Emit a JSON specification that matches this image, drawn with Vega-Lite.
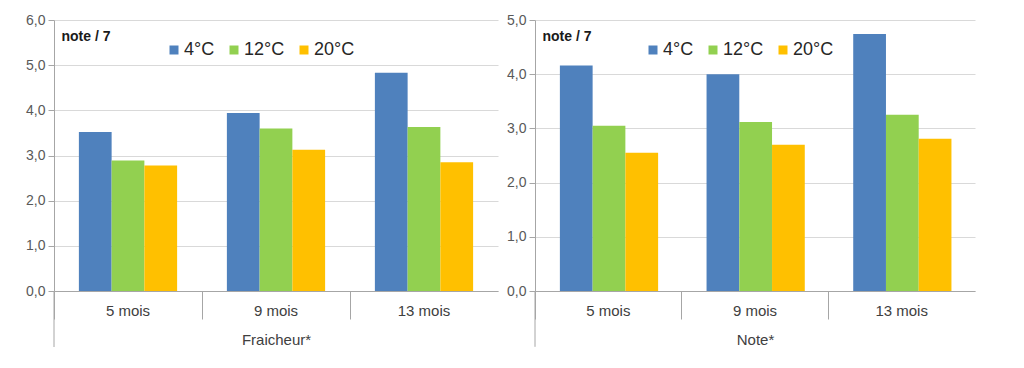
{
  "$schema": "https://vega.github.io/schema/vega-lite/v6.json",
  "background": "white",
  "padding": {"left": 25, "top": 13, "right": 10, "bottom": 5},
  "spacing": 8,
  "datasets": {
    "fraicheur": [
      {"duree": "5 mois", "temp": "4°C", "note": 3.52},
      {"duree": "5 mois", "temp": "12°C", "note": 2.89},
      {"duree": "5 mois", "temp": "20°C", "note": 2.78},
      {"duree": "9 mois", "temp": "4°C", "note": 3.94},
      {"duree": "9 mois", "temp": "12°C", "note": 3.6},
      {"duree": "9 mois", "temp": "20°C", "note": 3.13},
      {"duree": "13 mois", "temp": "4°C", "note": 4.83},
      {"duree": "13 mois", "temp": "12°C", "note": 3.63},
      {"duree": "13 mois", "temp": "20°C", "note": 2.85}
    ],
    "note": [
      {"duree": "5 mois", "temp": "4°C", "note": 4.16},
      {"duree": "5 mois", "temp": "12°C", "note": 3.05},
      {"duree": "5 mois", "temp": "20°C", "note": 2.55},
      {"duree": "9 mois", "temp": "4°C", "note": 4.0},
      {"duree": "9 mois", "temp": "12°C", "note": 3.12},
      {"duree": "9 mois", "temp": "20°C", "note": 2.7},
      {"duree": "13 mois", "temp": "4°C", "note": 4.74},
      {"duree": "13 mois", "temp": "12°C", "note": 3.25},
      {"duree": "13 mois", "temp": "20°C", "note": 2.81}
    ]
  },
  "config": {
    "font": "Liberation Sans",
    "view": {"stroke": null},
    "axisX": {
      "domainColor": "#a6a6a6", "tickColor": "#a6a6a6", "tickSize": 28, "bandPosition": 0,
      "labelAngle": 0, "labelFontSize": 15, "labelColor": "#404040", "labelPadding": -16,
      "titleFontSize": 15, "titleFontWeight": "normal", "titleColor": "#404040", "titlePadding": 13,
      "grid": false
    },
    "axisY": {
      "domainColor": "#a6a6a6", "tickColor": "#a6a6a6", "tickSize": 6,
      "labelFontSize": 14, "labelColor": "#595959", "labelPadding": 3,
      "gridColor": "#d9d9d9",
      "labelExpr": "replace(format(datum.value, '.1f'), '.', ',')",
      "titleAngle": 0, "titleAlign": "left", "titleBaseline": "middle",
      "titleX": 7, "titleY": 16, "titleFontSize": 14, "titleFontWeight": "bold", "titleColor": "#1a1a1a"
    },
    "legend": {
      "orient": "none", "legendY": 21, "direction": "horizontal",
      "symbolType": "square", "symbolSize": 81, "symbolStrokeWidth": 0, "symbolOpacity": 1,
      "labelFontSize": 18, "labelColor": "#262626", "labelOffset": 1, "columnPadding": 10
    }
  },
  "resolve": {"scale": {"color": "independent"}},
  "hconcat": [
    {
      "width": 444,
      "height": 271,
      "layer": [
        {
          "data": {"name": "fraicheur"},
          "mark": {"type": "bar"},
          "encoding": {
            "x": {"field": "duree", "type": "nominal", "title": "Fraicheur*",
                  "scale": {"domain": ["5 mois", "9 mois", "13 mois"], "paddingInner": 0, "paddingOuter": 0}},
            "xOffset": {"field": "temp", "type": "nominal",
                  "scale": {"domain": ["4°C", "12°C", "20°C"], "paddingInner": 0, "paddingOuter": 0.76}},
            "y": {"field": "note", "type": "quantitative", "title": "note / 7",
                  "scale": {"domain": [0, 6]}, "axis": {"values": [0, 1, 2, 3, 4, 5, 6]}},
            "color": {"field": "temp", "type": "nominal", "title": null,
                  "scale": {"domain": ["4°C", "12°C", "20°C"], "range": ["#4f81bd", "#92d050", "#ffc000"]},
                  "legend": {"legendX": 111}}
          }
        },
        {
          "data": {"values": [{}]},
          "mark": {"type": "rule", "color": "#a6a6a6"},
          "encoding": {
            "x": {"datum": "5 mois", "type": "nominal", "bandPosition": 0},
            "y": {"datum": 0, "type": "quantitative"},
            "y2": {"datum": -1.24}
          }
        }
      ]
    },
    {
      "width": 440,
      "height": 271,
      "layer": [
        {
          "data": {"name": "note"},
          "mark": {"type": "bar"},
          "encoding": {
            "x": {"field": "duree", "type": "nominal", "title": "Note*",
                  "scale": {"domain": ["5 mois", "9 mois", "13 mois"], "paddingInner": 0, "paddingOuter": 0}},
            "xOffset": {"field": "temp", "type": "nominal",
                  "scale": {"domain": ["4°C", "12°C", "20°C"], "paddingInner": 0, "paddingOuter": 0.76}},
            "y": {"field": "note", "type": "quantitative", "title": "note / 7",
                  "scale": {"domain": [0, 5]}, "axis": {"values": [0, 1, 2, 3, 4, 5]}},
            "color": {"field": "temp", "type": "nominal", "title": null,
                  "scale": {"domain": ["4°C", "12°C", "20°C"], "range": ["#4f81bd", "#92d050", "#ffc000"]},
                  "legend": {"legendX": 109}}
          }
        },
        {
          "data": {"values": [{}]},
          "mark": {"type": "rule", "color": "#a6a6a6"},
          "encoding": {
            "x": {"datum": "5 mois", "type": "nominal", "bandPosition": 0},
            "y": {"datum": 0, "type": "quantitative"},
            "y2": {"datum": -1.03}
          }
        }
      ]
    }
  ]
}
